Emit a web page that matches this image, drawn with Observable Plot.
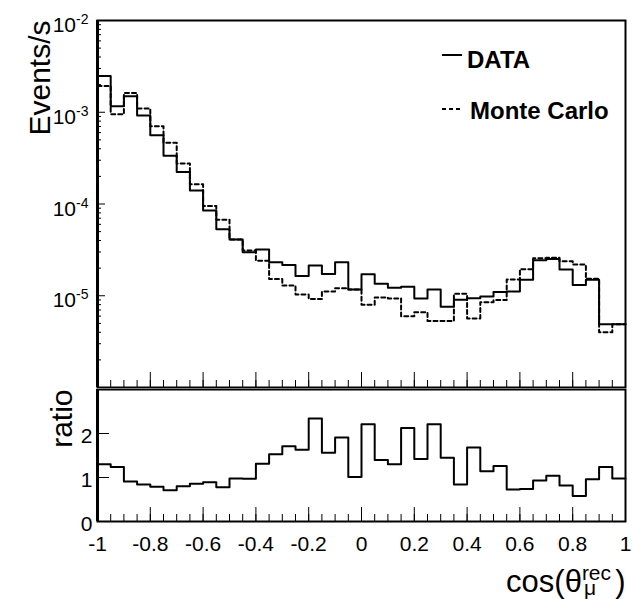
<!DOCTYPE html>
<html><head><meta charset="utf-8">
<script src="https://cdn.jsdelivr.net/npm/d3@7"></script>
<script src="https://cdn.jsdelivr.net/npm/@observablehq/plot@0.6"></script>
<style>
html,body{margin:0;padding:0;background:#fff;overflow:hidden;}
#wrap{position:relative;width:632px;height:599px;font-family:"Liberation Sans",Arial,sans-serif;}
#wrap svg{display:block;}
.sw{position:absolute;height:2px;width:20px;}
.lt{position:absolute;font-weight:bold;font-size:24px;line-height:24px;white-space:nowrap;color:#000;}
</style></head><body>
<div id="wrap"></div>
<script>
// bin edges of cos(theta_mu^rec)
const binEdges = [-1,-0.95,-0.9,-0.85,-0.8,-0.75,-0.7,-0.65,-0.6,-0.55,-0.5,-0.45,-0.4,-0.35,-0.3,-0.25,-0.2,-0.15,-0.1,-0.05,0,0.05,0.1,0.15,0.2,0.25,0.3,0.35,0.4,0.45,0.5,0.55,0.6,0.65,0.7,0.75,0.8,0.85,0.9,0.95,1];
// DATA (Events/s per bin)
const dataRate = [2.48e-3,1.16e-3,1.49e-3,9.2e-4,5.6e-4,3.35e-4,2.23e-4,1.40e-4,8.5e-5,5.3e-5,
  4.1e-5,2.98e-5,3.19e-5,2.32e-5,2.17e-5,1.64e-5,2.14e-5,1.73e-5,2.32e-5,1.17e-5,
  1.72e-5,1.35e-5,1.22e-5,1.25e-5,9.35e-6,1.17e-5,7.6e-6,9.05e-6,9.4e-6,9.8e-6,
  1.10e-5,1.11e-5,1.49e-5,2.44e-5,2.52e-5,1.93e-5,1.31e-5,1.49e-5,4.88e-6,4.88e-6];
// Monte Carlo (Events/s per bin)
const mcRate = [1.93e-3,9.5e-4,1.62e-3,1.10e-3,7.05e-4,4.65e-4,2.77e-4,1.64e-4,9.5e-5,6.75e-5,
  4.1e-5,3.11e-5,2.40e-5,1.52e-5,1.29e-5,1.03e-5,9.2e-6,1.11e-5,1.21e-5,1.17e-5,
  8.0e-6,9.6e-6,9.35e-6,5.96e-6,6.6e-6,5.3e-6,5.3e-6,1.05e-5,5.66e-6,8.5e-6,
  8.97e-6,1.50e-5,1.95e-5,2.57e-5,2.59e-5,2.38e-5,2.19e-5,1.53e-5,3.99e-6,4.88e-6];
// DATA / MC ratio
const ratio = [1.30,1.24,0.91,0.84,0.79,0.71,0.80,0.86,0.89,0.78,
  0.98,0.97,1.31,1.53,1.71,1.63,2.34,1.56,1.91,1.01,
  2.21,1.40,1.30,2.125,1.42,2.21,1.45,0.84,1.68,1.14,
  1.26,0.73,0.74,0.93,1.04,0.82,0.58,0.96,1.24,0.98];

const xMajor = [-1,-0.8,-0.6,-0.4,-0.2,0,0.2,0.4,0.6,0.8,1];
const yDecades = [1e-2,1e-3,1e-4,1e-5,1e-6];
const yLabelDecades = [1e-2,1e-3,1e-4,1e-5];
const yMinorMult = [2,3,4,5,6,7,8,9];
const ratioTicks = [0,1,2];
const legendLabels = ["DATA","Monte Carlo"];
const yTitle = "Events/s";
const ratioTitle = "ratio";
const xTitleBase = "cos(θ";
const xTitleSup = "rec";
const xTitleSub = "μ";

const yMinor = [];
for (const d of yDecades.slice(1)) for (const m of yMinorMult) yMinor.push(d * m);

function steps(vals) {
  return binEdges.map((x, i) => ({x, y: vals[Math.min(i, vals.length - 1)]}));
}

const style = {fontFamily: '"Liberation Sans", Arial, sans-serif', fontSize: "20px", background: "#fff", color: "#000"};

const topPlot = Plot.plot({
  width: 632, height: 388, marginTop: 20, marginBottom: 1, marginLeft: 97, marginRight: 7,
  style,
  x: {domain: [-1, 1]},
  y: {type: "log", domain: [1e-6, 1e-2]},
  marks: [
    Plot.line(steps(mcRate), {x: "x", y: "y", curve: "step-after", stroke: "#000", strokeWidth: 2, strokeDasharray: "4,3"}),
    Plot.line(steps(dataRate), {x: "x", y: "y", curve: "step-after", stroke: "#000", strokeWidth: 2}),
    Plot.axisX({ticks: xMajor, tickSize: -15, fill: "none", label: null}),
    Plot.axisX({ticks: binEdges, tickSize: -7, fill: "none", label: null}),
    Plot.axisY({ticks: yDecades, tickSize: -8, fill: "none", label: null}),
    Plot.axisY({ticks: yMinor, tickSize: -4, fill: "none", label: null}),
    Plot.axisY({ticks: yLabelDecades, tickSize: 0, tickPadding: 9, fontSize: 21, tickFormat: d => "10^" + Math.round(Math.log10(d)), label: null}),
    Plot.frame({stroke: "#000", strokeWidth: 2}),
    Plot.ruleX([-1], {stroke: "#000", strokeWidth: 3}),
    Plot.text([yTitle], {frameAnchor: "top-left", text: d => d, rotate: -90, textAnchor: "end", dx: -69, fontSize: 30})
  ]
});

const botPlot = Plot.plot({
  width: 632, height: 211, marginTop: 1, marginBottom: 78, marginLeft: 97, marginRight: 7,
  style,
  x: {domain: [-1, 1]},
  y: {domain: [0, 3]},
  marks: [
    Plot.line(steps(ratio), {x: "x", y: "y", curve: "step-after", stroke: "#000", strokeWidth: 2}),
    Plot.axisX({ticks: xMajor, tickSize: -14, fill: "none", label: null}),
    Plot.axisX({ticks: binEdges, tickSize: -7, fill: "none", label: null}),
    Plot.axisX({ticks: xMajor, tickSize: 0, tickPadding: 15, fontSize: 21, tickFormat: d => String(+d.toFixed(1)), label: null}),
    Plot.axisY({ticks: ratioTicks, tickSize: -12, fill: "none", label: null}),
    Plot.axisY({ticks: ratioTicks, tickSize: 0, tickPadding: 5, fontSize: 21, tickFormat: d => String(d), label: null, dy: 3}),
    Plot.frame({stroke: "#000", strokeWidth: 2}),
    Plot.ruleX([-1], {stroke: "#000", strokeWidth: 3}),
    Plot.text([ratioTitle], {frameAnchor: "top-left", text: d => d, rotate: -90, textAnchor: "end", dx: -47, fontSize: 30}),
    Plot.text([xTitleBase], {frameAnchor: "bottom-right", text: d => d, textAnchor: "end", lineAnchor: "bottom", dy: 70, fontSize: 31})
  ]
});

// superscripted decade labels
d3.select(topPlot).selectAll("text").each(function() {
  const m = /^10\^(-?\d+)$/.exec(this.textContent);
  if (!m) return;
  const s = d3.select(this);
  s.text(null);
  s.append("tspan").attr("dy", 5).text("10");
  s.append("tspan").attr("dy", -8).attr("font-size", 14).text(m[1]);
});

// x title with sub/superscript
d3.select(botPlot).selectAll("text").filter(function() { return this.textContent === xTitleBase; }).each(function() {
  const s = d3.select(this);
  s.text(null);
  s.append("tspan").text(xTitleBase);
  s.append("tspan").attr("font-size", 21).attr("dy", -12).text(xTitleSup);
  s.append("tspan").attr("font-size", 21).attr("dx", -27).attr("dy", 15).text(xTitleSub);
  s.append("tspan").attr("dx", 19).attr("dy", -3).text(")");
});

const wrap = document.getElementById("wrap");
wrap.appendChild(topPlot);
wrap.appendChild(botPlot);

// legend
const leg = d3.select(wrap);
leg.append("div").attr("class", "sw").style("left", "442px").style("top", "54px").style("background", "#000");
leg.append("div").attr("class", "sw").style("left", "442px").style("top", "108px")
  .style("background", "repeating-linear-gradient(to right,#000 0 4px,transparent 4px 7px)");
leg.append("div").attr("class", "lt").style("left", "467px").style("top", "48px").text(legendLabels[0]);
leg.append("div").attr("class", "lt").style("left", "470px").style("top", "99px").text(legendLabels[1]);
</script>
</body></html>
